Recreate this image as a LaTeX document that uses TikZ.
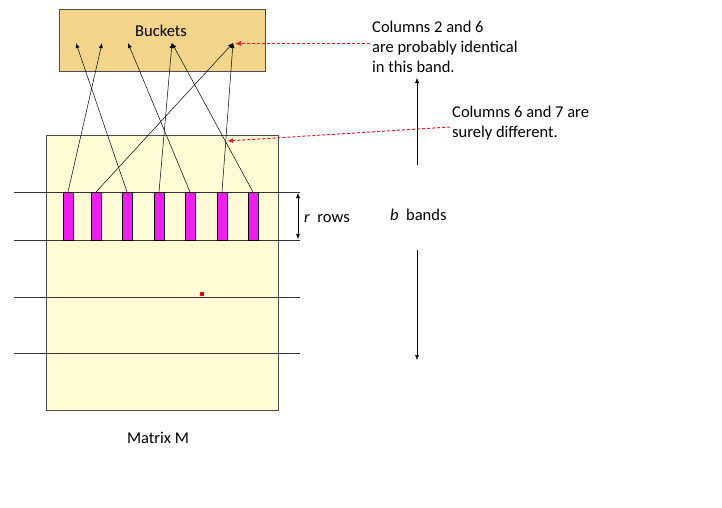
\documentclass[tikz,border=0pt]{standalone}
\usepackage{fontspec}
\setmainfont{Carlito}
\usetikzlibrary{arrows.meta}
\definecolor{bucketfill}{HTML}{F2D48A}
\definecolor{matfill}{HTML}{FFFBD5}
\definecolor{colfill}{HTML}{F21CF2}
\definecolor{dashred}{HTML}{E8202A}
\begin{document}
\begin{tikzpicture}[x=1pt,y=-1pt,
  col/.style={draw=black,fill=colfill,minimum width=10pt,minimum height=48pt,inner sep=0pt,line width=0.6pt},
  arr/.style={-{Latex[length=5pt,width=4pt]},line width=0.5pt},
  redarr/.style={-{Latex[length=6pt,width=5pt]},color=dashred,dash pattern=on 3pt off 2pt,line width=1pt},
  txt/.style={font=\fontsize{16.5}{20}\selectfont,align=left,inner sep=0pt}]
\useasboundingbox (0,0) rectangle (722,507);
\node[draw=black!70,fill=matfill,minimum width=232pt,minimum height=275pt,anchor=north west,inner sep=0pt] (M) at (46,135) {};
\node[draw=black!70,fill=bucketfill,minimum width=206pt,minimum height=62pt,anchor=north west,inner sep=0pt] (B) at (59,9) {};
\node[txt] (bt) at (161,31) {Buckets};
\foreach \i/\y in {1/192,2/240,3/297,4/353}{
  \coordinate (l\i) at (14,\y); \coordinate (r\i) at (300,\y);
  \draw[line width=0.5pt,black!80] (l\i) -- (r\i);}
\foreach \i/\x in {1/68,2/96,3/127,4/159,5/190,6/222,7/253}{
  \node[col,anchor=north] (c\i) at (\x,192) {};}
\foreach \i/\x in {1/76,2/102,3/128,4/172,5/233}{
  \coordinate (k\i) at (\x,43);}
\draw[arr] (c1.north) -- (k2);
\draw[arr] (c2.north) -- (k5);
\draw[arr] (c3.north) -- (k1);
\draw[arr] (c4.north) -- (k4);
\draw[arr] (c5.north) -- (k3);
\draw[arr] (c6.north) -- (k5);
\draw[arr] (c7.north) -- (k4);
\fill[red!85!black] (202,294) circle (2.3pt);
\coordinate (rt) at (298,193); \coordinate (rb) at (298,239);
\draw[{Latex[length=5pt,width=4pt]}-{Latex[length=5pt,width=4pt]},line width=0.5pt] (rt) -- (rb);
\node[txt,anchor=west] (rr) at (304,219) {\textit{r}\ \ rows};
\node[txt,anchor=west] (bb) at (390,215) {\textit{b}\ \ bands};
\coordinate (u1) at (417,165); \coordinate (u2) at (417,78);
\coordinate (d1) at (417,250); \coordinate (d2) at (417,360);
\draw[arr] (u1) -- (u2);
\draw[arr] (d1) -- (d2);
\node[txt,anchor=north west] (t1) at (372,21) {Columns 2 and 6\\are probably identical\\in this band.};
\node[txt,anchor=north west] (t2) at (452,106) {Columns 6 and 7 are\\surely different.};
\coordinate (a1) at (370,43.5); \coordinate (a2) at (450,127);
\coordinate (p1) at (235,43.5); \coordinate (p2) at (227,141);
\draw[redarr] (a1) -- (p1);
\draw[redarr] (a2) -- (p2);
\node[txt] (mm) at (158,438) {Matrix M};
\end{tikzpicture}
\end{document}
